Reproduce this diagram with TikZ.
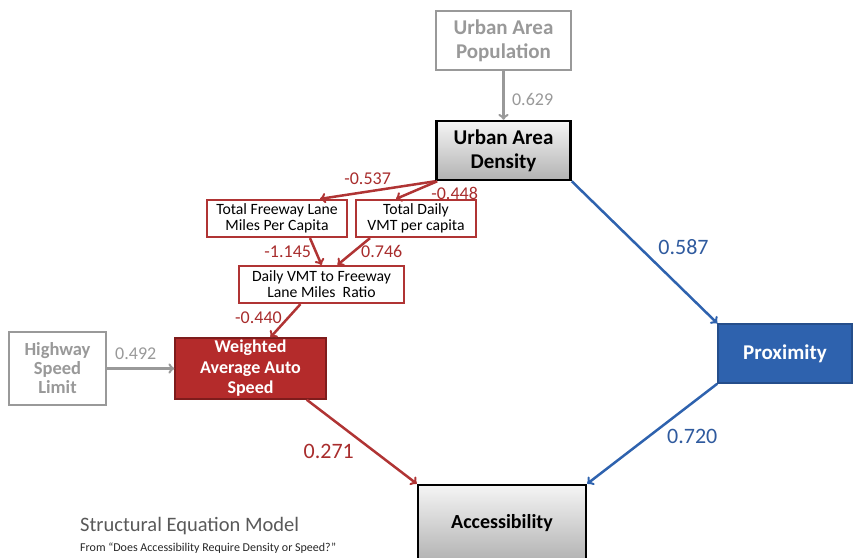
\documentclass[tikz,border=0pt]{standalone}
\usepackage{fontspec}
\setmainfont{Carlito}
\usetikzlibrary{arrows}

\definecolor{boxgray}{HTML}{999999}
\definecolor{semred}{HTML}{B03434}
\definecolor{semredtext}{HTML}{A82C2C}
\definecolor{semredfill}{HTML}{B42B2B}
\definecolor{semreddark}{HTML}{7E1C1C}
\definecolor{semblue}{HTML}{2E62AE}
\definecolor{sembluetext}{HTML}{2F5A9E}

\tikzstyle{graybox} = [rectangle, draw=boxgray, line width=2.5pt, fill=white, text=boxgray, align=center, inner sep=0pt, font=\bfseries\fontsize{21}{24}\selectfont]
\tikzstyle{keybox} = [rectangle, draw=black, line width=2.5pt, top color=gray!8, bottom color=gray!60, text=black, align=center, inner sep=0pt, font=\bfseries\fontsize{21}{24}\selectfont]
\tikzstyle{redbox} = [rectangle, draw=semred, line width=2.2pt, fill=white, text=black, align=center, inner sep=0pt, font=\fontsize{15.7}{15.8}\selectfont]
\tikzstyle{redfill} = [rectangle, draw=semreddark, line width=1.5pt, fill=semredfill, text=white, align=center, inner sep=0pt, font=\bfseries\fontsize{18}{20.5}\selectfont]
\tikzstyle{bluefill} = [rectangle, draw=semblue!80!black, line width=1.5pt, fill=semblue, text=white, align=center, inner sep=0pt, font=\bfseries\fontsize{21}{24}\selectfont]
\tikzstyle{grayedge} = [line width=2.5pt, ->, >=to, draw=boxgray]
\tikzstyle{rededge} = [line width=2.5pt, ->, >=to, draw=semred]
\tikzstyle{blueedge} = [line width=2.5pt, ->, >=to, draw=semblue]
\tikzstyle{graylabel} = [text=boxgray, font=\fontsize{18}{20}\selectfont]
\tikzstyle{redlabel} = [text=semredtext, font=\fontsize{18}{20}\selectfont]
\tikzstyle{biglabel} = [font=\fontsize{22}{24}\selectfont]

\begin{document}
\begin{tikzpicture}[x=1pt, y=-1pt, node distance=110pt]
\useasboundingbox (0,0) rectangle (854,557);

\node (pop) [graybox, minimum width=135pt, minimum height=59pt] at (503.5,40.5) {Urban Area\\Population};
\node (dens) [keybox, below of=pop, minimum width=134pt, minimum height=59pt] {Urban Area\\Density};
\node (tflm) [redbox, minimum width=140pt, minimum height=37pt] at (277,218.5) {Total Freeway Lane\\Miles Per Capita};
\node (tdv) [redbox, minimum width=120pt, minimum height=37pt] at (416,218.5) {Total Daily\\VMT per capita};
\node (ratio) [redbox, minimum width=165pt, minimum height=37pt] at (321.5,284.5) {Daily VMT to Freeway\\Lane Miles\ \ Ratio};
\node (wavs) [redfill, minimum width=151pt, minimum height=61pt] at (250.5,368.5) {Weighted\\Average Auto\\Speed};
\node (hwy) [graybox, minimum width=97pt, minimum height=73pt, font=\bfseries\fontsize{18.5}{19}\selectfont] at (57.5,368.5) {Highway\\Speed\\Limit};
\node (prox) [bluefill, minimum width=134pt, minimum height=59pt] at (785,353.5) {Proximity};
\node (acc) [keybox, font=\bfseries\fontsize{20}{24}\selectfont, minimum width=168pt, minimum height=76pt] at (502,523) {Accessibility};

\node (title) [anchor=west, inner sep=0pt, text=black!65, font=\fontsize{20.5}{22}\selectfont] at (80,526) {Structural Equation Model};
\node (source) [anchor=west, inner sep=0pt, text=black!85, font=\fontsize{12}{13}\selectfont] at (80,548.5) {From “Does Accessibility Require Density or Speed?”};

\draw [grayedge] (pop) -- node[graylabel, anchor=west, xshift=4pt, yshift=-4pt]{0.629} (dens);
\draw [rededge] (dens.south west) -- node[redlabel, xshift=-10pt, yshift=11pt]{-0.537} ([xshift=43pt]tflm.north);
\draw [rededge] ([xshift=2pt]dens.south west) -- node[redlabel, xshift=38pt, yshift=-3pt]{-0.448} ([xshift=-20pt]tdv.north);
\draw [rededge] ([xshift=33pt]tflm.south) -- node[redlabel, xshift=-28pt]{-1.145} (ratio.north);
\draw [rededge] ([xshift=-46pt]tdv.south) -- node[redlabel, xshift=28pt]{0.746} ([xshift=16pt]ratio.north);
\draw [rededge] ([xshift=-21pt]ratio.south) -- node[redlabel, xshift=-27pt, yshift=3pt]{-0.440} ([xshift=20pt]wavs.north);
\draw [grayedge] (hwy) -- node[graylabel, xshift=-5pt, yshift=15pt]{0.492} (wavs);
\draw [rededge] ([xshift=-20pt]wavs.south east) -- node[redlabel, biglabel, xshift=-33pt, yshift=-10pt]{0.271} (acc.north west);
\draw [blueedge] (dens.south east) -- node[text=sembluetext, biglabel, xshift=39pt, yshift=5pt]{0.587} (prox.north west);
\draw [blueedge] (prox.south west) -- node[text=sembluetext, biglabel, xshift=40pt, yshift=-3pt]{0.720} (acc.north east);

\end{tikzpicture}
\end{document}
